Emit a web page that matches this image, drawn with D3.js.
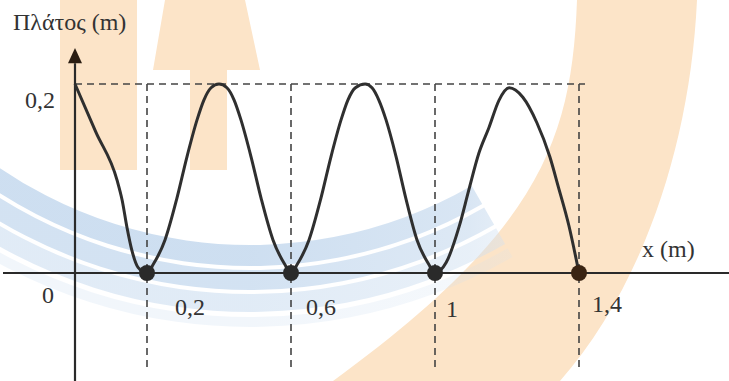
<!DOCTYPE html>
<html>
<head>
<meta charset="utf-8">
<script src="https://cdn.jsdelivr.net/npm/d3@7"></script>
<style>
  html, body { margin: 0; padding: 0; background: #fff; }
  svg { display: block; }
  text { font-family: "Liberation Serif", "Times New Roman", Times, serif; fill: #333; }
</style>
</head>
<body>
<svg id="chart" width="729" height="381"></svg>
<script>
// Standing-wave amplitude envelope: amplitude (m) against position x (m)
const nodePositions = [0.2, 0.6, 1.0, 1.4];
const nodeLabels = ["0,2", "0,6", "1", "1,4"];
const amplitudeMax = 0.2;
const amplitudeLabel = "0,2";

// Traced envelope, x in m
const envelopeX = [
  0, 0.058, 0.117, 0.131, 0.144, 0.158, 0.175, 0.2,
  0.217, 0.25, 0.283, 0.311, 0.339, 0.358, 0.378, 0.4,
  0.422, 0.442, 0.461, 0.489, 0.517, 0.55, 0.583, 0.6,
  0.617, 0.65, 0.683, 0.711, 0.739, 0.758, 0.779, 0.806,
  0.825, 0.844, 0.864, 0.892, 0.919, 0.95, 0.983, 1.0,
  1.031, 1.067, 1.094, 1.122, 1.15, 1.178, 1.206,
  1.244, 1.283, 1.319, 1.342, 1.372, 1.4
];
// amplitude in m at each x above
const envelopeA = [
  0.2, 0.149, 0.098, 0.077, 0.049, 0.024, 0.006, 0,
  0.009, 0.035, 0.079, 0.123, 0.162, 0.183, 0.196, 0.2,
  0.196, 0.183, 0.162, 0.123, 0.079, 0.035, 0.009, 0,
  0.009, 0.035, 0.079, 0.123, 0.162, 0.183, 0.196, 0.2,
  0.196, 0.183, 0.162, 0.123, 0.079, 0.035, 0.009, 0,
  0.011, 0.049, 0.088, 0.127, 0.154, 0.183, 0.196,
  0.186, 0.159, 0.123, 0.092, 0.050, 0
];

const xAxisTitle = "x (m)";
const yAxisTitle = "Πλάτος (m)";
const originLabel = "0";

const svg = d3.select("#chart");
const W = 729, H = 381;

const x = d3.scaleLinear().domain([0, 1]).range([75, 435]);
const y = d3.scaleLinear().domain([0, 0.2]).range([273, 84]);

// ---------- faint logo watermark behind the diagram ----------
const defs = svg.append("defs");
const fade = defs.append("linearGradient")
  .attr("id", "blueFade").attr("gradientUnits", "userSpaceOnUse")
  .attr("x1", 0).attr("y1", 0).attr("x2", 440).attr("y2", 0);
fade.append("stop").attr("offset", 0).attr("stop-color", "#c8dbef").attr("stop-opacity", 1);
fade.append("stop").attr("offset", 0.5).attr("stop-color", "#cddef0").attr("stop-opacity", 0.85);
fade.append("stop").attr("offset", 1).attr("stop-color", "#e6eef7").attr("stop-opacity", 0);

const bg = svg.append("g").attr("class", "watermark");
const orange = "#fce4c8";

bg.append("rect").attr("x", 60).attr("y", 0).attr("width", 77).attr("height", 170).attr("fill", orange);
bg.append("path").attr("d", "M165,0 L245,0 L260,70 L227,70 L227,170 L190,170 L190,70 L153,70 Z").attr("fill", orange);
bg.append("path")
  .attr("d", "M577,0 C572,140 540,230 333,381 L560,381 C640,290 690,150 697,0 Z")
  .attr("fill", orange);

const arcGen = d3.arc().startAngle(2.62).endAngle(3.95);
const blue = bg.append("g").attr("transform", "translate(250,-200)");
[[445, 466, 0.9], [470, 490, 0.8], [494, 512, 0.55], [517, 527, 0.25]].forEach(([r0, r1, op]) => {
  blue.append("path")
    .attr("d", arcGen.innerRadius(r0).outerRadius(r1)())
    .attr("fill", "url(#blueFade)")
    .attr("opacity", op);
});

// ---------- guide lines ----------
const dash = "7,5";
svg.append("line")
  .attr("x1", x(0)).attr("x2", x(1.4) + 6)
  .attr("y1", y(amplitudeMax)).attr("y2", y(amplitudeMax))
  .attr("stroke", "#444").attr("stroke-width", 1.6).attr("stroke-dasharray", dash);

svg.selectAll("line.guide").data(nodePositions).join("line")
  .attr("class", "guide")
  .attr("x1", d => x(d)).attr("x2", d => x(d))
  .attr("y1", y(amplitudeMax)).attr("y2", y(-0.1))
  .attr("stroke", "#444").attr("stroke-width", 1.6).attr("stroke-dasharray", dash);

// ---------- axes ----------
svg.append("line")
  .attr("x1", x(-0.2)).attr("x2", W)
  .attr("y1", y(0)).attr("y2", y(0))
  .attr("stroke", "#2a2a2a").attr("stroke-width", 2.2);

svg.append("line")
  .attr("x1", x(0)).attr("x2", x(0))
  .attr("y1", y(0.222)).attr("y2", H)
  .attr("stroke", "#2a2a2a").attr("stroke-width", 2.2);

svg.append("path")
  .attr("d", `M${x(0)},${y(0.238)} L${x(0) + 7},${y(0.222)} L${x(0) - 7},${y(0.222)} Z`)
  .attr("fill", "#2b1d12");

// ---------- envelope curve ----------
const pts = envelopeX.map((v, i) => [v, envelopeA[i]]);
svg.append("path")
  .datum(pts)
  .attr("d", d3.line().x(d => x(d[0])).y(d => y(d[1])).curve(d3.curveMonotoneX))
  .attr("fill", "none")
  .attr("stroke", "#2f2f2f").attr("stroke-width", 3)
  .attr("stroke-linejoin", "round");

// nodes
svg.selectAll("circle.node").data(nodePositions).join("circle")
  .attr("class", "node")
  .attr("cx", d => x(d)).attr("cy", y(0)).attr("r", 8)
  .attr("fill", (d, i) => i === nodePositions.length - 1 ? "#3a2413" : "#2a2a2a");

// ---------- text ----------
const labelNudge = [28, 15, 11, 13];
const labelDrop = [42, 42, 44, 39];
const serif = "Liberation Serif, Times New Roman, serif";
svg.selectAll("text.tick").data(nodePositions).join("text")
  .attr("class", "tick")
  .attr("font-family", serif)
  .attr("x", (d, i) => x(d) + labelNudge[i])
  .attr("y", (d, i) => y(0) + labelDrop[i])
  .attr("font-size", 24)
  .text((d, i) => nodeLabels[i]);

svg.append("text").attr("font-family", serif).attr("x", 42).attr("y", 303).attr("font-size", 24).text(originLabel);
svg.append("text").attr("font-family", serif).attr("x", 25).attr("y", y(amplitudeMax) + 24).attr("font-size", 24).text(amplitudeLabel);
svg.append("text").attr("font-family", serif).attr("x", 642).attr("y", 257).attr("font-size", 24).text(xAxisTitle);
svg.append("text").attr("font-family", serif).attr("x", 13).attr("y", 30).attr("font-size", 24).text(yAxisTitle);
</script>
</body>
</html>
